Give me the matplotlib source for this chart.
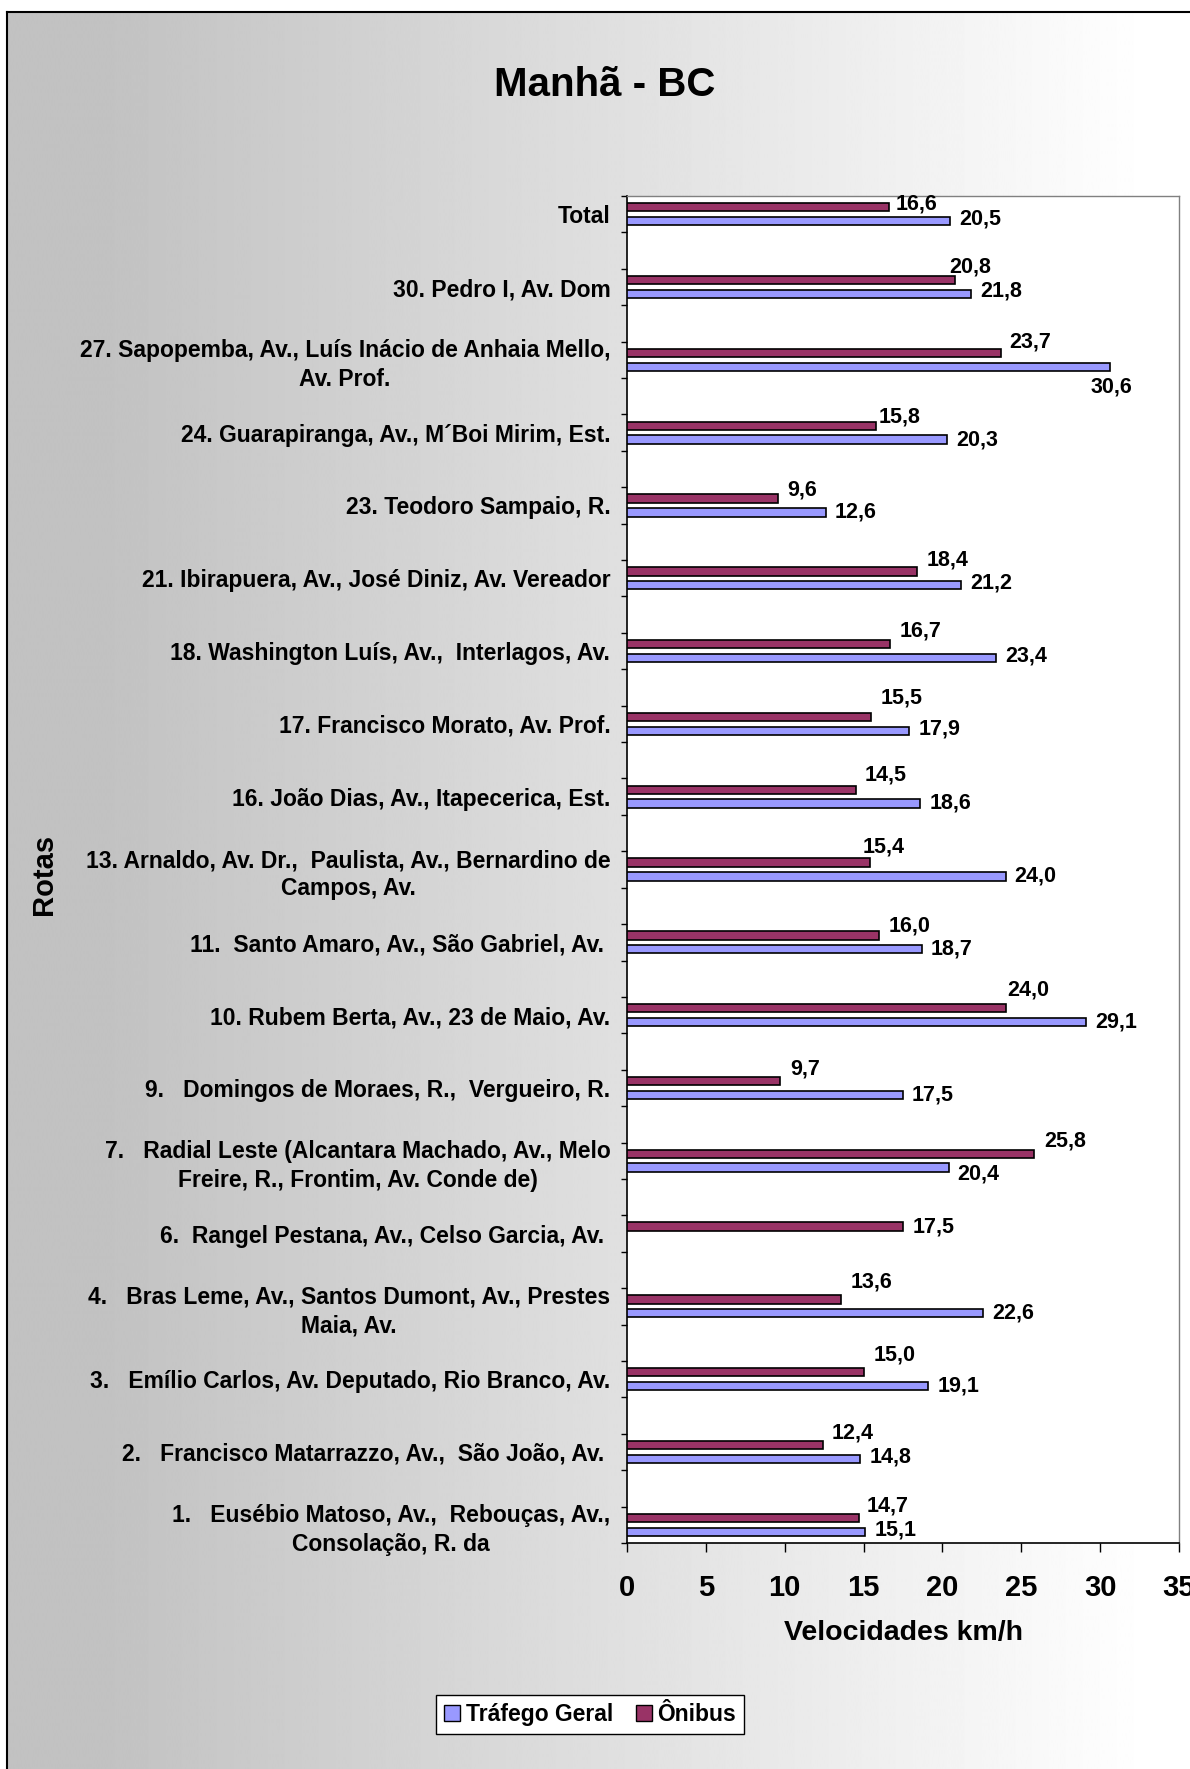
import matplotlib
matplotlib.use("Agg")
import matplotlib.pyplot as plt
from matplotlib.patches import Patch
import numpy as np

plt.rcParams['font.family'] = ['Liberation Sans', 'DejaVu Sans']
plt.rcParams['font.weight'] = 'bold'

# routes, top to bottom
rotas = [
    "Total",
    "30. Pedro I, Av. Dom",
    "27. Sapopemba, Av., Luís Inácio de Anhaia Mello,\nAv. Prof.",
    "24. Guarapiranga, Av., M´Boi Mirim, Est.",
    "23. Teodoro Sampaio, R.",
    "21. Ibirapuera, Av., José Diniz, Av. Vereador",
    "18. Washington Luís, Av.,  Interlagos, Av.",
    "17. Francisco Morato, Av. Prof.",
    "16. João Dias, Av., Itapecerica, Est.",
    "13. Arnaldo, Av. Dr.,  Paulista, Av., Bernardino de\nCampos, Av.",
    "11.  Santo Amaro, Av., São Gabriel, Av. ",
    "10. Rubem Berta, Av., 23 de Maio, Av.",
    "9.   Domingos de Moraes, R.,  Vergueiro, R.",
    "7.   Radial Leste (Alcantara Machado, Av., Melo\nFreire, R., Frontim, Av. Conde de)",
    "6.  Rangel Pestana, Av., Celso Garcia, Av. ",
    "4.   Bras Leme, Av., Santos Dumont, Av., Prestes\nMaia, Av.",
    "3.   Emílio Carlos, Av. Deputado, Rio Branco, Av.",
    "2.   Francisco Matarrazzo, Av.,  São João, Av. ",
    "1.   Eusébio Matoso, Av.,  Rebouças, Av.,\nConsolação, R. da",
]
onibus = [16.6, 20.8, 23.7, 15.8, 9.6, 18.4, 16.7, 15.5, 14.5, 15.4,
          16.0, 24.0, 9.7, 25.8, 17.5, 13.6, 15.0, 12.4, 14.7]
trafego = [20.5, 21.8, 30.6, 20.3, 12.6, 21.2, 23.4, 17.9, 18.6, 24.0,
           18.7, 29.1, 17.5, 20.4, np.nan, 22.6, 19.1, 14.8, 15.1]

# label nudges in pixels (dx, dy; dy negative = up)
on_dx = [7, -6, 8, 2, 9, 9, 9, 9, 9, -7, 9, 2, 10, 10, 10, 9, 10, 9, 8]
on_dy = [-3, -13, -11, -9, -9, -11, -13, -19, -15, -16, -9, -18, -12, -13, 0, -17, -17, -12, -12]
tg_dy = [-2, -3, 20, 0, 0, -2, -2, -2, -1, 0, 0, 0, 0, 6, 0, 0, 0, -2, -2]

COR_TG = '#9999FF'
COR_ON = '#993366'

W, H = 1190, 1769
X0, X1, Y0, Y1 = 627, 1179, 196, 1543
fig = plt.figure(figsize=(W / 100, H / 100), dpi=100)

# gray-to-white background with frame
bg = fig.add_axes([0, 0, 1, 1], zorder=-10)
bg.set_xlim(0, W)
bg.set_ylim(H, 0)
bg.axis('off')
xs = np.arange(W)
g = np.clip(0.76 + 0.24 * (xs - 100) / 1050, 0.76, 1.0)
bg.imshow(np.tile(g, (2, 1)), extent=(7, W, H, 12), aspect='auto',
          cmap='gray', vmin=0, vmax=1, interpolation='bilinear')
bg.plot([7, 7], [12, H], color='black', lw=1.5)
bg.plot([7, W], [12, 12], color='black', lw=1.5)

ax = fig.add_axes([X0 / W, 1 - Y1 / H, (X1 - X0) / W, (Y1 - Y0) / H])
ax.set_facecolor('white')

n = len(rotas)
y = np.arange(n) * 2.0
off = 0.19
hb = 0.23

ax.barh(y - off, onibus, height=hb, color=COR_ON, edgecolor='black', lw=1.2, zorder=3)
ax.barh(y + off, trafego, height=hb, color=COR_TG, edgecolor='black', lw=1.2, zorder=3)

def fmt(v):
    return f"{v:.1f}".replace('.', ',')

fs_val = 15.5
for i in range(n):
    ax.annotate(fmt(onibus[i]), (onibus[i], y[i] - off),
                xytext=(on_dx[i], -on_dy[i]), textcoords='offset pixels',
                ha='left', va='center', fontsize=fs_val, fontweight='bold')
    v = trafego[i]
    if np.isnan(v):
        continue
    if v > 30:
        ax.annotate(fmt(v), (v, y[i] + off), xytext=(2, -tg_dy[i]),
                    textcoords='offset pixels', ha='center', va='center',
                    fontsize=fs_val, fontweight='bold')
    else:
        ax.annotate(fmt(v), (v, y[i] + off), xytext=(9, -tg_dy[i]),
                    textcoords='offset pixels', ha='left', va='center',
                    fontsize=fs_val, fontweight='bold')

ax.set_xlim(0, 35)
ax.set_ylim(2 * (n - 1) + 0.5, -0.5)
ax.set_xticks(np.arange(0, 36, 5))
ax.tick_params(axis='x', length=6.5, width=1, direction='out', pad=16,
               labelsize=21)
ax.set_yticks(y)
ax.set_yticklabels(rotas, fontsize=16.5, fontweight='bold', linespacing=1.3)
ax.set_yticks(np.arange(-0.5, 2 * (n - 1) + 1, 1.0), minor=True)
ax.tick_params(axis='y', which='major', length=0, pad=12)
ax.tick_params(axis='y', which='minor', length=4, width=1, direction='out')
for t in ax.get_yticklabels():
    t.set_multialignment('center')
for t in ax.get_xticklabels():
    t.set_fontweight('bold')

for s in ['left', 'bottom']:
    ax.spines[s].set_color('black')
    ax.spines[s].set_linewidth(1.2)
for s in ['top', 'right']:
    ax.spines[s].set_color('#808080')
    ax.spines[s].set_linewidth(1.0)

fig.text(605 / W, 1 - 85 / H, "Manhã - BC", ha='center', va='center',
         fontsize=29, fontweight='bold')
fig.text((X0 + X1) / 2 / W, 1 - 1633 / H, "Velocidades km/h", ha='center',
         va='center', fontsize=20.5, fontweight='bold')
fig.text(44 / W, 1 - 874 / H, "Rotas", ha='center', va='center',
         rotation=90, fontsize=21, fontweight='bold')

handles = [Patch(facecolor=COR_TG, edgecolor='black', label='Tráfego Geral'),
           Patch(facecolor=COR_ON, edgecolor='black', label='Ônibus')]
leg = fig.legend(handles=handles, loc='center', ncol=2,
                 bbox_to_anchor=(590 / W, 1 - 1714.5 / H),
                 prop={'size': 16.5, 'weight': 'bold'}, frameon=True,
                 fancybox=False, edgecolor='black', framealpha=1,
                 handlelength=0.7, handleheight=0.7, handletextpad=0.25,
                 columnspacing=1.0, borderpad=0.35)
leg.get_frame().set_linewidth(1.0)

fig.savefig("out.png", dpi=100)
